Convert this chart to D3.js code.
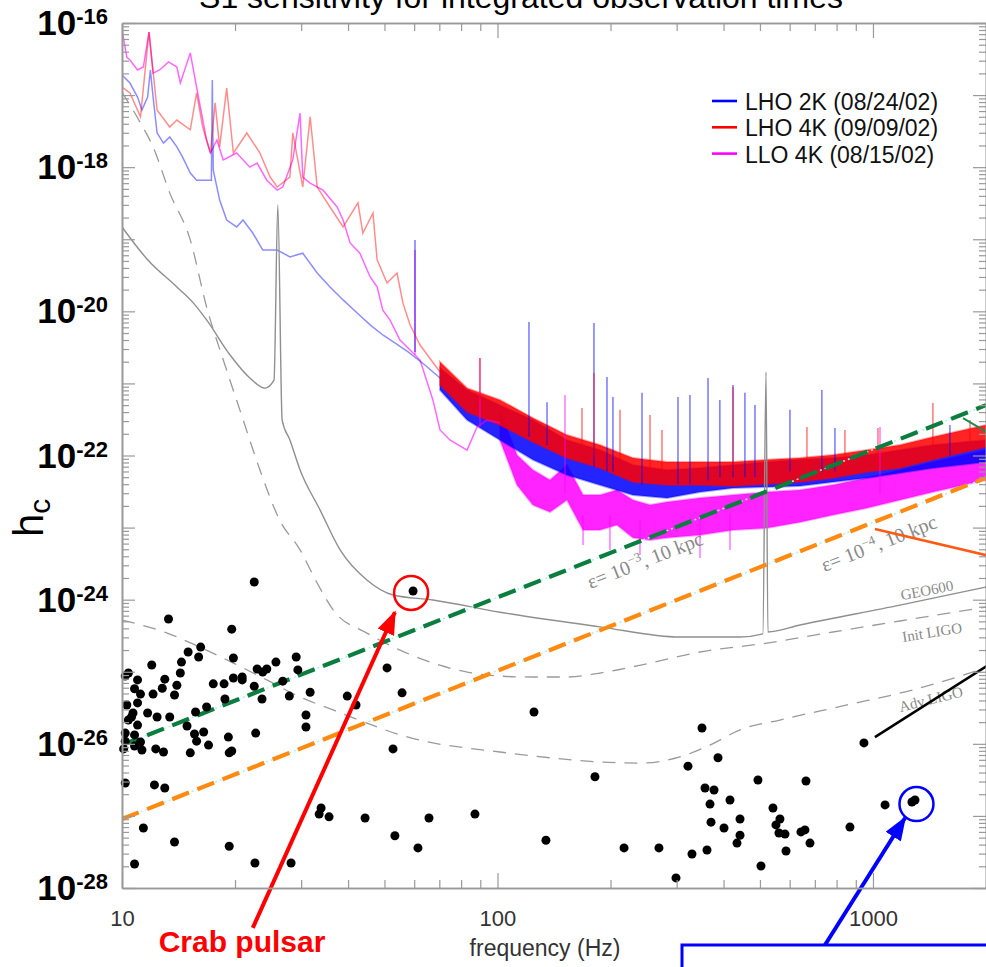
<!DOCTYPE html>
<html>
<head>
<meta charset="utf-8">
<script src="https://cdn.jsdelivr.net/npm/d3@7/dist/d3.min.js"></script>
<style>
html, body { margin: 0; padding: 0; background: #fff; overflow: hidden; }
svg { display: block; font-family: "Liberation Sans", Arial, Helvetica, sans-serif; }
</style>
</head>
<body>
<svg id="chart" width="986" height="967"></svg>
<script>
// ---------- axis ticks ----------
const freqMajor = [10, 100, 1000];
const freqTickLabels = ["10", "100", "1000"];
const freqMinor = [20, 30, 40, 50, 60, 70, 80, 90, 200, 300, 400, 500, 600, 700, 800, 900, 2000];
const strainLabelExponents = [-16, -18, -20, -22, -24, -26, -28];

// ---------- legend ----------
const seriesNames = ["LHO 2K (08/24/02)", "LHO 4K (09/09/02)", "LLO 4K (08/15/02)"];
const seriesColors = ["#0000ff", "#ff0000", "#ff00ff"];

// ---------- design sensitivity curves [Hz, h] ----------
const geo600 = [[10.0,1.48e-19],[11.7,5.2e-20],[14.0,2.18e-20],[15.5,1.30e-20],[16.8,7.6e-21],[19.4,2.48e-21],
  [21.9,1.19e-21],[24.0,8.6e-22],[25.4,1.11e-21],[26.0,3.0e-19],[26.7,3.1e-22],[28.0,1.64e-22],[29.8,6.3e-23],
  [33.7,1.75e-23],[38.1,4.9e-24],[44.9,1.87e-24],[52.7,1.16e-24],[67.3,9.9e-25],[101.5,6.7e-25],[187.5,4.2e-25],
  [306,3.03e-25],[442,3.03e-25],[509,3.35e-25],[519,1.44e-21],[525,3.56e-25],[639,4.45e-25],[1180,8.4e-25],[2000,1.50e-24]];
const initLigo = [[10.0,1.10e-17],[11.2,4.1e-18],[12.1,1.91e-18],[13.4,4.4e-19],[15.2,9.8e-20],[16.8,1.15e-20],
  [18.8,1.80e-21],[20.6,4.3e-22],[23.3,6.3e-23],[26.3,1.27e-23],[29.8,4.9e-24],[33.1,1.70e-24],[36.5,7.2e-25],
  [44.9,3.44e-25],[55.0,2.0e-25],[67.3,1.32e-25],[83.0,9.9e-26],[101.5,8.7e-26],[124.3,8.45e-26],[153.1,8.45e-26],
  [187.5,9.6e-26],[254.8,1.32e-25],[346.2,1.88e-25],[522,2.5e-25],[782,3.56e-25],[1180,5.06e-25],[2000,7.9e-25]];
const advLigo = [[10.0,5.2e-25],[13.2,3.44e-25],[16.1,2.2e-25],[19.8,1.32e-25],[24.3,7.7e-26],[29.8,4.46e-26],
  [36.5,2.95e-26],[44.9,1.94e-26],[55.0,1.33e-26],[67.3,1.03e-26],[83.0,8.75e-27],[101.5,7.7e-27],[138.0,6.4e-27],
  [187.5,5.6e-27],[239.6,5.4e-27],[306,6.6e-27],[368,9.6e-27],[442.5,1.56e-26],[565,2.14e-26],[853,3.46e-26],
  [1278,5.6e-26],[2000,1.13e-25]];

// ---------- S1 spectra, low-frequency traces [Hz, h] ----------
const lho2kTrace = [[10.0,1.90e-17],[10.5,1.47e-17],[11.0,9.4e-18],[11.3,6.2e-18],[11.7,9.4e-18],[11.9,2.23e-17],
  [12.1,9.4e-18],[12.4,2.98e-18],[12.9,2.16e-18],[13.4,2.62e-18],[14.0,1.91e-18],[14.5,1.38e-18],[15.2,8.3e-19],
  [15.8,6.6e-19],[16.8,6.6e-19],[17.3,6.6e-19],[17.4,1.62e-17],[17.5,9.1e-19],[18.2,3.5e-19],[19.0,1.85e-19],
  [20.2,1.48e-19],[21.0,1.85e-19],[22.3,1.22e-19],[23.7,7.1e-20],[25.9,7.1e-20],[28.0,5.7e-20],[30.3,6.4e-20],
  [33.1,3.4e-20],[35.8,2.18e-20],[38.8,1.44e-20],[42.3,9.5e-21],[45.8,6.5e-21],[49.5,4.7e-21],[53.3,3.64e-21],
  [57.8,2.73e-21],[64.1,1.80e-21],[70.3,1.19e-21]];
const lho4kTrace = [[10.0,1.29e-17],[10.5,1.07e-17],[11.2,5.0e-18],[11.8,7.5e-17],[12.4,6.2e-18],[13.4,3.6e-18],
  [14.0,4.5e-18],[15.2,3.3e-18],[15.8,1.07e-17],[16.4,3.6e-18],[17.2,1.57e-18],[17.7,7.8e-18],[18.2,1.91e-18],
  [19.0,1.25e-17],[19.8,1.57e-18],[21.5,2.98e-18],[23.3,1.57e-18],[24.8,7.3e-19],[25.9,5.3e-19],[28.0,7.3e-19],
  [28.5,2.98e-18],[30.3,5.3e-19],[31.7,5.0e-18],[33.1,5.3e-19],[35.8,2.8e-19],[38.8,1.48e-19],[42.5,3.2e-19],
  [43.8,1.22e-19],[46.6,2.3e-19],[47.8,5.2e-20],[50.8,2.47e-20],[54.0,3.4e-20],[56.0,1.30e-20],[58.5,6.5e-21],
  [62.2,3.41e-21],[70.3,1.44e-21]];
const llo4kTrace = [[10.0,8.0e-17],[10.3,3.37e-17],[10.5,3.07e-17],[11.0,2.23e-17],[11.4,2.45e-17],[11.8,7.5e-17],
  [12.1,2.02e-17],[12.6,2.23e-17],[13.3,2.88e-17],[14.0,2.45e-17],[14.3,1.47e-17],[15.2,3.84e-17],[15.8,1.29e-17],
  [16.8,2.38e-18],[17.2,1.57e-18],[17.9,2.38e-18],[18.6,1.26e-18],[20.2,1.57e-18],[21.9,1.0e-18],[22.9,1.14e-18],
  [24.3,6.6e-19],[25.9,4.8e-19],[26.8,5.3e-19],[28.5,1.26e-18],[29.8,5.6e-18],[30.3,7.3e-19],[31.7,6.0e-19],
  [34.3,4.8e-19],[37.4,2.8e-19],[38.8,1.85e-19],[40.5,8.9e-20],[43.0,6.4e-20],[45.8,3.0e-20],[47.8,2.18e-20],
  [49.5,1.04e-20],[51.7,7.6e-21],[55.0,4.0e-21],[58.5,2.9e-21],[62.2,2.11e-21],[67.3,5.9e-22],[70.3,2.26e-22],
  [74.7,1.64e-22],[83.0,1.19e-22],[88.2,2.48e-22],[93.8,3.1e-22],[101.5,2.82e-22]];

// ---------- S1 spectra above ~70 Hz: noise band [Hz, upper h, lower h] ----------
const lho2kBand = [[70.3,1.64e-21,8.1e-22],[83.0,8.1e-22,3.1e-22],[101.5,5.0e-22,1.64e-22],[124.3,3.1e-22,8.7e-23],
  [153.1,1.64e-22,5.36e-23],[187.5,1.19e-22,3.9e-23],[229.5,7.4e-23,2.83e-23],[282.8,6.3e-23,2.57e-23],
  [346.2,6.7e-23,3.12e-23],[423.9,7.4e-23,3.54e-23],[522,8.1e-23,3.66e-23],[639,8.7e-23,3.78e-23],
  [782,9.2e-23,4.29e-23],[964,1.02e-22,4.87e-23],[1180,1.19e-22,5.7e-23],[1444,1.40e-22,6.7e-23],[2000,1.64e-22,8.1e-23]];
const lho4kBand = [[70.3,1.98e-21,9.5e-22],[83.0,8.6e-22,4.0e-22],[101.5,5.9e-22,2.65e-22],[124.3,3.31e-22,1.54e-22],
  [153.1,1.92e-22,9.2e-23],[187.5,1.40e-22,6.7e-23],[229.5,9.2e-23,4.29e-23],[282.8,8.1e-23,3.9e-23],
  [346.2,8.1e-23,3.9e-23],[423.9,8.1e-23,3.78e-23],[522,8.7e-23,4.02e-23],[639,9.2e-23,4.29e-23],
  [782,1.02e-22,4.87e-23],[964,1.19e-22,5.9e-23],[1180,1.40e-22,6.7e-23],[1444,1.81e-22,8.7e-23],[2000,2.65e-22,1.31e-22]];
const llo4kBand = [[101.5,4.3e-22,1.64e-22],[112.7,1.02e-22,3.9e-23],[124.3,6.3e-23,2.06e-23],[138.0,4.57e-23,1.64e-23],
  [153.1,7.4e-23,2.41e-23],[169.0,2.83e-23,9.25e-24],[187.5,2.83e-23,9.25e-24],[208.1,3.32e-23,1.09e-23],
  [229.5,2.41e-23,7.2e-24],[254.8,2.06e-23,6.7e-24],[282.8,2.26e-23,7.2e-24],[346.2,2.57e-23,7.9e-24],
  [423.9,2.83e-23,9.25e-24],[522,3.12e-23,9.86e-24],[639,3.32e-23,1.19e-23],[782,3.9e-23,1.49e-23],
  [964,4.87e-23,1.87e-23],[1180,6.3e-23,2.41e-23],[1444,8.1e-23,3.12e-23],[2000,1.19e-22,4.57e-23]];

// ---------- narrow lines and dips [Hz, from h, to h] ----------
const lho2kLines = [[60.3,2.73e-21,9.8e-20],[121.3,1.8e-22,7.1e-21],[135.5,1.4e-22,5.5e-22],[180.7,7e-23,6.9e-21],
  [195.7,6e-23,1.23e-21],[203,6e-23,6.5e-22],[242.6,4e-23,7.4e-22],[302.5,4e-23,6.5e-22],[325.5,4e-23,6.9e-22],
  [363.7,4.5e-23,1.19e-21],[391,5e-23,5.9e-22],[423.9,5e-23,9.5e-22],[456,5e-23,7.4e-22],[485,5e-23,5.0e-22],
  [601,6e-23,4.3e-22],[731,6e-23,8.1e-22],[792,6e-23,2.41e-22],[1603,1.0e-22,2.65e-22]];
const lho4kLines = [[89.8,6e-22,2.25e-21],[167.9,1.2e-22,4.56e-22],[180.7,1.0e-22,1.39e-21],[212,8e-23,4.3e-22],
  [254.8,6e-23,3.65e-22],[274.2,6e-23,2.26e-22],[423.9,6e-23,8.9e-22],[667,6e-23,2.48e-22],[842,7e-23,2.26e-22],
  [1031,8e-23,2.41e-22],[1444,1.2e-22,5.35e-22],[1813,1.5e-22,3.1e-22]];
const llo4kLines = [[60.3,2.5e-21,7.1e-20],[89.8,2.5e-22,2.25e-21],[151.3,3e-23,6.9e-22],[1044,3e-23,2.48e-22],
  [169,1.5e-23,5.73e-24],[199.3,1.5e-23,4.9e-24],[239.6,1.3e-23,4.17e-24],[346.2,1.4e-23,3.78e-24],[416.1,1.6e-23,4.9e-24]];

// ---------- spin-down limits, eps lines [Hz, h] ----------
const eps3Line = [[10, 9.6e-27], [2000, 5.0e-22]];
const eps4Line = [[10, 9.06e-28], [2000, 4.9e-23]];

// ---------- known pulsars [Hz, h] ----------
const pulsars = [[22.5,1.76e-24],[13.3,5.4e-25],[19.6,3.9e-25],[15.0,1.88e-25],[16.2,2.2e-25],[16.0,1.6e-25],
  [12.0,1.24e-25],[14.4,1.36e-25],[14.3,9.6e-26],[10.2,8.7e-26],[10.4,9.6e-26],[11.0,7.7e-26],[13.0,7.9e-26],
  [12.8,5.9e-26],[14.0,6.5e-26],[13.8,4.75e-26],[10.8,5.8e-26],[11.2,4.9e-26],[12.1,4.9e-26],[11.0,3.7e-26],
  [10.3,3.46e-26],[10.7,2.68e-26],[10.4,2.14e-26],[10.6,2.36e-26],[11.0,1.82e-26],[10.2,1.41e-26],[10.2,1.09e-26],
  [10.8,1.33e-26],[11.2,1.06e-26],[10.8,9.3e-27],[11.3,8.2e-27],[10.1,8.5e-27],[11.7,2.68e-26],[12.4,2.36e-26],
  [13.4,2.36e-26],[12.3,8.5e-27],[12.9,7.7e-27],[14.9,1.77e-26],[15.7,2.76e-26],[15.6,1.37e-26],[15.8,1.09e-26],
  [16.5,1.46e-26],[16.8,3.24e-26],[17.0,9.6e-27],[15.2,7.5e-27],[17.5,6.8e-26],[18.7,6.8e-26],[18.8,4.19e-26],
  [19.8,8.2e-26],[19.8,1.55e-25],[20.9,8.45e-26],[20.9,7.7e-26],[19.2,1.24e-26],[19.3,7.5e-27],[19.6,7.95e-27],
  [22.5,6.3e-26],[22.9,1.09e-25],[23.7,9.9e-26],[24.3,1.09e-25],[25.7,1.36e-25],[23.6,4.19e-26],[22.7,1.41e-26],
  [26.8,7.4e-26],[27.9,4.6e-26],[29.1,1.6e-25],[29.4,1.06e-25],[31.7,5.2e-26],[30.9,2.51e-26],[30.9,1.71e-26],
  [39.8,4.6e-26],[42.0,3.46e-26],[50.8,1.13e-25],[55.7,5.1e-26],[52.7,8.5e-27],
  [10.2,2.86e-27],[12.2,2.69e-27],[13.0,2.44e-27],[11.4,6.8e-28],[13.8,4.35e-28],[19.3,3.8e-28],[10.8,2.15e-28],
  [22.6,2.22e-28],[28.2,2.22e-28],[33.9,1.29e-27],[33.5,1.06e-27],[35.6,9.7e-28],[44.4,9.35e-28],[53.3,5.3e-28],
  [61.4,3.6e-28],[65.7,9.35e-28],[87.1,1.06e-27],
  [125.1,2.76e-26],[134.6,4.6e-28],[181.8,3.5e-27],[217.3,3.6e-28],[269.2,3.6e-28],[298.8,1.38e-28],[329.6,2.96e-28],
  [321.6,4.9e-27],[350.5,1.66e-26],[357,2.44e-27],[377.3,2.29e-27],[386.6,6.4e-27],[368.1,1.46e-27],[370.4,8.2e-28],
  [401.1,6.8e-28],[361.4,3.37e-28],[416.1,1.66e-27],[434.4,4.2e-28],[442.5,9.06e-28],[442.5,5.4e-28],[494,3.15e-27],
  [503.2,2.02e-28],[541.6,1.29e-27],[551.6,7.5e-28],[561.9,5.8e-28],[565.3,9.06e-28],[583.1,5.6e-28],[586.7,3.26e-28],
  [643,6.0e-28],[659,6.4e-28],[679.6,4.2e-28],[663.1,3.05e-27],[868.4,7.0e-28],[946.2,1.03e-26],[1077,1.42e-27]];
const crabPulsar = [59.6, 1.32e-24];
const psrJ1939 = [[1270, 1.56e-27], [1294, 1.66e-27]];

// ---------- annotation leaders [Hz, h] ----------
const crabArrow = [[22.3, 2.8e-29], [53.3, 6.7e-25]];
const psrArrow = [[745, 1.62e-29], [1217, 9.35e-28]];
const leaderGreen = [[1737, 3.31e-22], [2049, 1.99e-22]];
const leaderOrange = [[1012, 9.55e-24], [2049, 4.03e-24]];
const leaderBlack = [[1012, 1.24e-26], [2049, 1.28e-25]];

// ---------- curve label anchors [Hz, h] ----------
const curveLabels = [
  { text: "GEO600", at: [1392, 1.36e-24], angle: -11 },
  { text: "Init LIGO", at: [1436, 3.56e-25], angle: -9 },
  { text: "Adv LIGO", at: [1426, 4.19e-26], angle: -14 }
];
const epsLabels = [
  { exp: "\u22123", at: [247, 3.55e-24] },
  { exp: "\u22124", at: [1037, 6.1e-24] }
];

// ================= drawing =================
const M = { left: 122, right: 986, top: 23, bottom: 888 };
const x = d3.scaleLog().domain([10, 2000]).range([M.left, M.right]);
const y = d3.scaleLog().domain([1e-28, 1e-16]).range([M.bottom, M.top]);
const svg = d3.select("#chart");
const defs = svg.append("defs");
defs.append("clipPath").attr("id", "plot").append("rect")
  .attr("x", M.left).attr("y", M.top).attr("width", M.right - M.left).attr("height", M.bottom - M.top);
function head(id, color) {
  defs.append("marker").attr("id", id).attr("markerUnits", "userSpaceOnUse")
    .attr("viewBox", "0 0 24 18").attr("refX", 22).attr("refY", 9)
    .attr("markerWidth", 24).attr("markerHeight", 18).attr("orient", "auto")
    .append("path").attr("d", "M0,0 L24,9 L0,18 Z").attr("fill", color);
}
head("headRed", "#ff0000");
head("headBlue", "#0000ff");

const line = d3.line().x(d => x(d[0])).y(d => y(d[1]));
const smooth = d3.line().x(d => x(d[0])).y(d => y(d[1])).curve(d3.curveMonotoneX);
const plot = svg.append("g").attr("clip-path", "url(#plot)");

// spectra: noise bands, low-frequency traces and narrow lines
const bandArea = d3.area().x(d => x(d[0])).y0(d => y(d[2])).y1(d => y(d[1]));
const spectra = [
  { trace: llo4kTrace, band: llo4kBand, lines: llo4kLines, color: seriesColors[2], op: 0.6 },
  { trace: lho2kTrace, band: lho2kBand, lines: lho2kLines, color: seriesColors[0], op: 0.45 },
  { trace: lho4kTrace, band: lho4kBand, lines: lho4kLines, color: seriesColors[1], op: 0.45 }
];
spectra.forEach(s => {
  plot.append("path").datum(s.band).attr("d", bandArea).attr("fill", s.color).attr("fill-opacity", 0.86)
    .attr("stroke", s.color).attr("stroke-opacity", 0.35).attr("stroke-width", 2);
});
spectra.forEach(s => {
  plot.append("path").datum(s.trace).attr("d", line).attr("fill", "none")
    .attr("stroke", s.color).attr("stroke-width", 1.5).attr("stroke-opacity", s.op);
  plot.selectAll(null).data(s.lines).enter().append("line")
    .attr("x1", d => x(d[0])).attr("x2", d => x(d[0]))
    .attr("y1", d => y(d[1])).attr("y2", d => y(d[2]))
    .attr("stroke", s.color).attr("stroke-width", 1.6).attr("stroke-opacity", 0.5);
});

// design curves
plot.append("path").datum(geo600).attr("d", smooth).attr("fill", "none")
  .attr("stroke", "#8f8f8f").attr("stroke-width", 1.4);
[initLigo, advLigo].forEach(c => {
  plot.append("path").datum(c).attr("d", smooth).attr("fill", "none")
    .attr("stroke", "#9a9a9a").attr("stroke-width", 1.3).attr("stroke-dasharray", "13,9");
});
curveLabels.forEach(l => {
  svg.append("text").attr("transform", `translate(${x(l.at[0])},${y(l.at[1])}) rotate(${l.angle})`)
    .attr("text-anchor", "middle").attr("dy", "0.35em")
    .attr("font-family", "'Liberation Serif', 'DejaVu Serif', serif").attr("font-size", 15)
    .attr("fill", "#8a8a8a").text(l.text);
});

// eps lines
[[eps3Line, "#0b7d3e"], [eps4Line, "#ff8a12"]].forEach(([d, c]) => {
  plot.append("path").datum(d).attr("d", line).attr("stroke", "#aef0f2")
    .attr("stroke-width", 1.5).attr("stroke-dasharray", "2,3").attr("fill", "none");
  plot.append("path").datum(d).attr("d", line).attr("stroke", c)
    .attr("stroke-width", 4.2).attr("stroke-dasharray", "18,9").attr("fill", "none");
});
const epsAngle = Math.atan2(y(eps3Line[1][1]) - y(eps3Line[0][1]), x(eps3Line[1][0]) - x(eps3Line[0][0])) * 180 / Math.PI;
epsLabels.forEach(l => {
  const t = svg.append("text").attr("transform", `translate(${x(l.at[0])},${y(l.at[1])}) rotate(${epsAngle})`)
    .attr("text-anchor", "middle").attr("dy", "0.35em")
    .attr("font-family", "'Liberation Serif', 'DejaVu Serif', serif").attr("font-size", 20).attr("fill", "#8a8a8a");
  t.append("tspan").text("\u03b5= 10");
  t.append("tspan").attr("font-size", 13).attr("dy", -8).text(l.exp);
  t.append("tspan").attr("dy", 8).text(", 10 kpc");
});

// pulsars
const dotG = svg.append("g");
dotG.selectAll("circle.p").data(pulsars.concat([crabPulsar], psrJ1939)).enter().append("circle")
  .attr("cx", d => x(d[0])).attr("cy", d => y(d[1])).attr("r", 4.5).attr("fill", "#000");

// highlight rings
svg.append("circle").attr("cx", x(crabPulsar[0]) - 2).attr("cy", y(crabPulsar[1]) + 2).attr("r", 17)
  .attr("fill", "none").attr("stroke", "#ff0000").attr("stroke-width", 2.5);
const psrCx = (x(psrJ1939[0][0]) + x(psrJ1939[1][0])) / 2 + 3;
const psrCy = (y(psrJ1939[0][1]) + y(psrJ1939[1][1])) / 2 + 3;
svg.append("circle").attr("cx", psrCx).attr("cy", psrCy).attr("r", 17)
  .attr("fill", "none").attr("stroke", "#0000ff").attr("stroke-width", 2.5);

// leaders
[[leaderGreen, "#1f8a4c", 2], [leaderOrange, "#ff5a14", 2.5], [leaderBlack, "#000", 2.5]].forEach(([d, c, w]) => {
  svg.append("path").datum(d).attr("d", line).attr("stroke", c).attr("stroke-width", w).attr("fill", "none");
});
svg.append("path").datum(crabArrow).attr("d", line).attr("stroke", "#ff0000").attr("stroke-width", 4)
  .attr("fill", "none").attr("marker-end", "url(#headRed)");
svg.append("path").datum(psrArrow).attr("d", line).attr("stroke", "#0000ff").attr("stroke-width", 4)
  .attr("fill", "none").attr("marker-end", "url(#headBlue)");

// axes frame (ticks point inward)
const axisColor = "#999";
function styleAxis(g) {
  g.selectAll(".domain").attr("stroke", axisColor).attr("stroke-width", 1.6);
  g.selectAll(".tick line").attr("stroke", axisColor).attr("stroke-width", 1.2);
  g.selectAll(".tick text").remove();
}
const yMinor = [];
for (let e = -28; e < -16; e++) for (let k = 2; k <= 9; k++) yMinor.push(k * Math.pow(10, e));
const yMajor = d3.range(-28, -15).map(e => Math.pow(10, e));
[[d3.axisBottom, M.bottom], [d3.axisTop, M.top]].forEach(([ax, pos]) => {
  svg.append("g").attr("transform", `translate(0,${pos})`)
    .call(ax(x).tickValues(freqMinor).tickSize(-8).tickSizeOuter(0)).call(styleAxis);
  svg.append("g").attr("transform", `translate(0,${pos})`)
    .call(ax(x).tickValues(freqMajor).tickSize(-15).tickSizeOuter(0)).call(styleAxis);
});
[[d3.axisLeft, M.left], [d3.axisRight, M.right]].forEach(([ax, pos]) => {
  svg.append("g").attr("transform", `translate(${pos},0)`)
    .call(ax(y).tickValues(yMinor).tickSize(-7).tickSizeOuter(0)).call(styleAxis);
  svg.append("g").attr("transform", `translate(${pos},0)`)
    .call(ax(y).tickValues(yMajor).tickSize(-13).tickSizeOuter(0)).call(styleAxis);
});

// frequency tick labels
const xl = svg.append("g").attr("transform", `translate(0,${M.bottom})`)
  .call(d3.axisBottom(x).tickValues(freqMajor).tickSize(0).tickPadding(22)
    .tickFormat((d, i) => freqTickLabels[i]));
xl.select(".domain").remove();
xl.selectAll("text").attr("font-size", 22).attr("fill", "#333")
  .attr("font-family", "'Liberation Sans', Arial, sans-serif");

// strain tick labels 10^n
strainLabelExponents.forEach(e => {
  const t = svg.append("text").attr("x", 108).attr("y", y(Math.pow(10, e)) + 12)
    .attr("text-anchor", "end").attr("font-weight", "bold").attr("font-size", 35).attr("fill", "#000");
  t.append("tspan").text("10");
  t.append("tspan").attr("font-size", 22).attr("dy", -11).text("-" + Math.abs(e));
});

// axis titles
svg.append("text").attr("x", 545).attr("y", 956).attr("text-anchor", "middle")
  .attr("font-size", 23).attr("fill", "#333").text("frequency (Hz)");
const yt = svg.append("text").attr("transform", "translate(43,537) rotate(-90)").attr("fill", "#000");
yt.append("tspan").attr("font-size", 42).text("h");
yt.append("tspan").attr("font-size", 30).attr("dy", 7).text("c");

// title
svg.append("text").attr("x", 521).attr("y", 8).attr("text-anchor", "middle")
  .attr("font-size", 32).attr("fill", "#000").text("S1 sensitivity for integrated observation times");

// legend
const lg = svg.append("g");
seriesNames.forEach((n, i) => {
  const cy = 101 + i * 26.3;
  lg.append("line").attr("x1", 712).attr("x2", 737).attr("y1", cy).attr("y2", cy)
    .attr("stroke", seriesColors[i]).attr("stroke-width", 2.6);
  lg.append("text").attr("x", 745).attr("y", cy + 9).attr("font-size", 23).attr("fill", "#111").text(n);
});

// pulsar call-outs
svg.append("text").attr("x", 242).attr("y", 952).attr("text-anchor", "middle")
  .attr("font-size", 30).attr("font-weight", "bold").attr("fill", "#ff0000").text("Crab pulsar");
svg.append("rect").attr("x", 682).attr("y", 945).attr("width", 330).attr("height", 60)
  .attr("fill", "#fff").attr("stroke", "#0000ff").attr("stroke-width", 3);
svg.append("text").attr("x", 725).attr("y", 987)
  .attr("font-size", 30).attr("font-weight", "bold").attr("fill", "#0000ff").text("PSR J1939+2134");
</script>
</body>
</html>
